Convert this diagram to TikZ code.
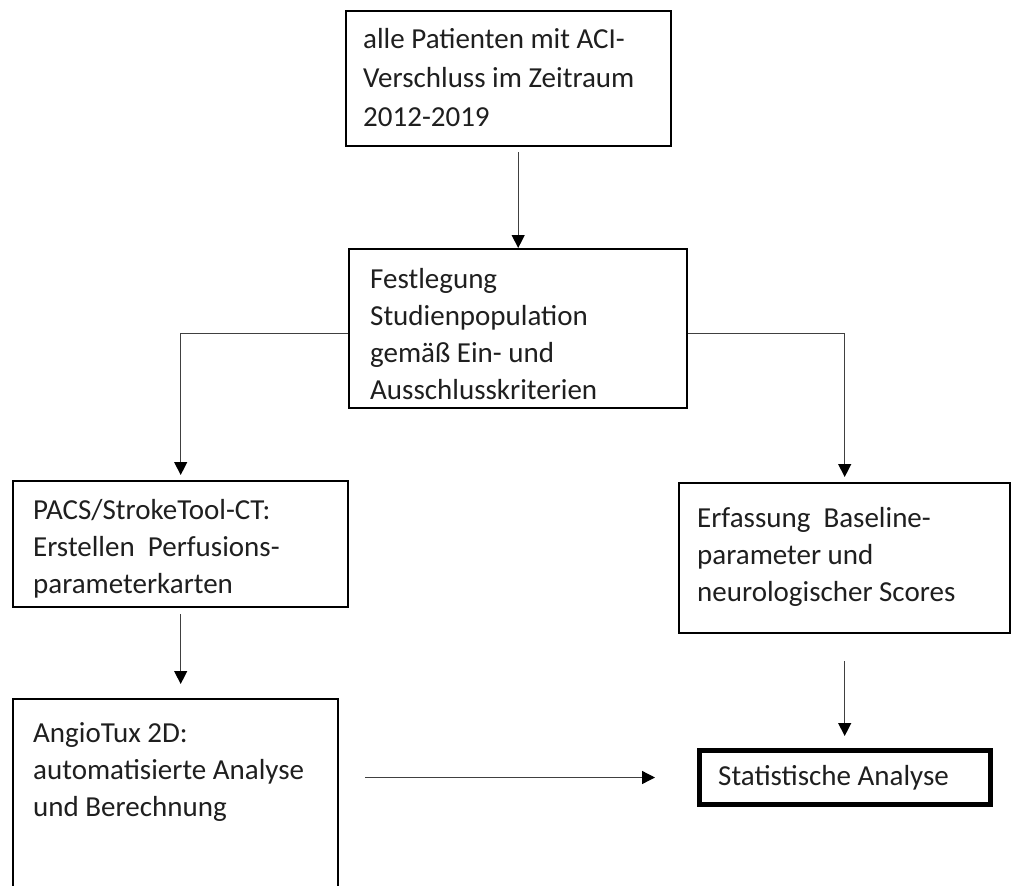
\documentclass[tikz,border=0pt]{standalone}
\usepackage{fontspec}
\setmainfont{Carlito}
\usetikzlibrary{arrows.meta,calc}
\begin{document}
\begin{tikzpicture}[x=1pt,y=-1pt,
  box/.style={draw=black,line width=2.4pt,inner sep=0pt,anchor=north west,fill=white},
  thickbox/.style={box,line width=5pt},
  lbl/.style={anchor=north west,inner sep=0pt,align=left,text=black!88,font=\fontsize{29}{37}\selectfont},
  conn/.style={draw=black!75,line width=1.3pt,-{Triangle[length=13pt,width=13pt,color=black]}},
]
\useasboundingbox (0,0) rectangle (1012,886);
% boxes
\node[box,minimum width=325pt,minimum height=135pt] (b1) at (345,10) {};
\node[box,minimum width=338pt,minimum height=159pt] (b2) at (348,248) {};
\node[box,minimum width=335pt,minimum height=126pt] (b3) at (12,480) {};
\node[box,minimum width=325pt,minimum height=200pt] (b4) at (12,698) {};
\node[box,minimum width=331pt,minimum height=150pt] (b5) at (678,482) {};
\node[thickbox,minimum width=291pt,minimum height=54pt] (b6) at (697,748) {};
% texts
\node[lbl,font=\fontsize{29}{39}\selectfont] (t1) at ($(b1.north west)+(18,11)$) {\strut alle Patienten mit ACI-\\Verschluss im Zeitraum\\2012-2019};
\node[lbl] (t2) at ($(b2.north west)+(22,14)$) {\strut Festlegung\\Studienpopulation\\gemäß Ein- und\\Ausschlusskriterien};
\node[lbl] (t3) at ($(b3.north west)+(21,13)$) {\strut PACS/StrokeTool-CT:\\Erstellen\ \ Perfusions-\\parameterkarten};
\node[lbl] (t4) at ($(b4.north west)+(21,18)$) {\strut AngioTux 2D:\\automatisierte Analyse\\und Berechnung};
\node[lbl] (t5) at ($(b5.north west)+(19,19)$) {\strut Erfassung\ \ Baseline-\\parameter und\\neurologischer Scores};
\node[lbl] (t6) at ($(b6.north west)+(21,11)$) {\strut Statistische Analyse};
% connectors
\draw[conn,shorten <=5pt] (b1.south -| b2.north) -- (b2.north);
\draw[conn,shorten >=5pt] ($(b2.west)+(0,4.5)$) -| (b3.north);
\draw[conn,shorten >=5pt] ($(b2.east)+(0,4.5)$) -| (b5.north);
\draw[conn,shorten <=6pt,shorten >=14pt] (b3.south) -- (b3.south |- b4.north);
\draw[conn,shorten <=27pt,shorten >=12pt] (b5.south) -- (b5.south |- b6.north);
\draw[conn,shorten <=26pt,shorten >=42pt] (b4.east |- b6.west) -- (b6.west);
\end{tikzpicture}
\end{document}
